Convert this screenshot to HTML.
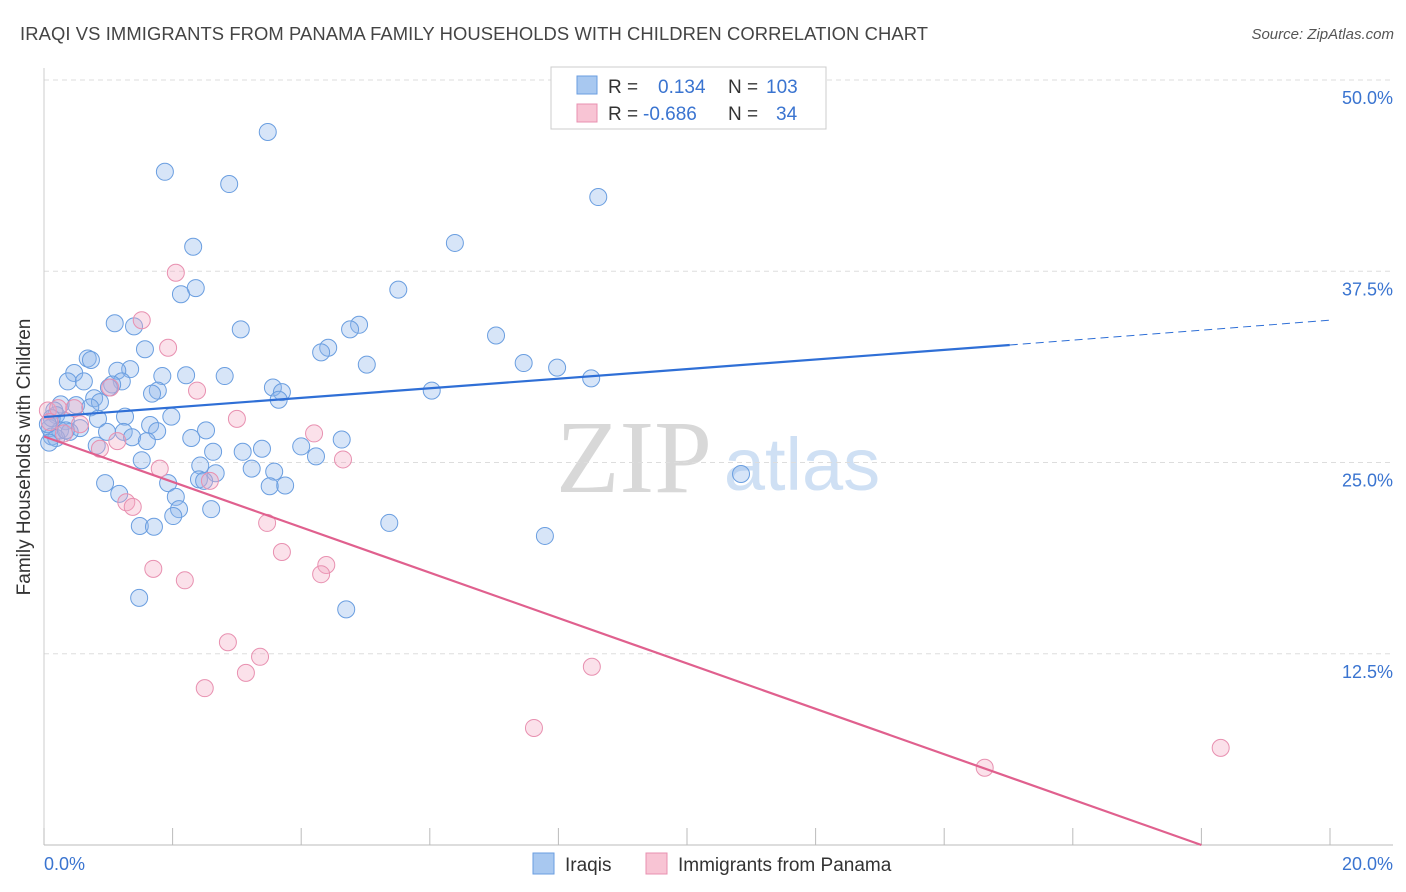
<!DOCTYPE html>
<html><head><meta charset="utf-8"><style>
body{margin:0;background:#fff;font-family:"Liberation Sans",sans-serif;}
svg{display:block}
</style></head><body>
<svg id="chart" width="1406" height="892" xmlns="http://www.w3.org/2000/svg">
<text x="20" y="40" font-size="18.4" fill="#444" textLength="908">IRAQI VS IMMIGRANTS FROM PANAMA FAMILY HOUSEHOLDS WITH CHILDREN CORRELATION CHART</text>
<text x="1394" y="39" font-size="15" fill="#555" text-anchor="end" font-style="italic">Source: ZipAtlas.com</text>
<g>
<text x="634" y="492" font-size="104" fill="#d8d8d8" font-family="Liberation Serif,serif" text-anchor="middle">ZIP</text>
<text x="802" y="490" font-size="74" fill="#cfe0f4" text-anchor="middle">atlas</text>
</g>
<g id="grid"></g><g id="axes"></g><g id="pts"></g><g id="lines"></g>
<text x="30" y="457" font-size="19" fill="#333" text-anchor="middle" transform="rotate(-90 30 457)">Family Households with Children</text>
<g>
<rect x="551" y="67" width="275" height="62" fill="#fff" stroke="#ccc"/>
<rect x="577" y="76" width="20" height="18" fill="#a8c8f0" stroke="#6a9ee0"/>
<rect x="577" y="104" width="20" height="18" fill="#f8c4d4" stroke="#e890b0"/>
<text x="608" y="93" font-size="19" fill="#333">R =</text><text x="658" y="93" font-size="19" fill="#3a74d0">0.134</text>
<text x="728" y="93" font-size="19" fill="#333">N =</text><text x="766" y="93" font-size="19" fill="#3a74d0">103</text>
<text x="608" y="120" font-size="19" fill="#333">R =</text><text x="643" y="120" font-size="19" fill="#3a74d0">-0.686</text>
<text x="728" y="120" font-size="19" fill="#333">N =</text><text x="776" y="120" font-size="19" fill="#3a74d0">34</text>
</g>
<g>
<rect x="533" y="853" width="21" height="21" fill="#a8c8f0" stroke="#6a9ee0"/>
<text x="565" y="871" font-size="19" fill="#333">Iraqis</text>
<rect x="646" y="853" width="21" height="21" fill="#f8c4d4" stroke="#e890b0"/>
<text x="678" y="871" font-size="19" fill="#333">Immigrants from Panama</text>
</g>
</svg>
<script>
const blueX=[3.48,1.88,2.88,8.62,2.32,6.39,2.36,2.13,5.51,1.10,1.40,3.06,4.90,4.76,7.03,1.57,4.42,4.31,0.68,0.73,5.02,7.46,7.98,1.34,0.47,1.14,2.21,1.84,2.81,8.51,0.37,0.62,1.21,1.06,1.01,3.56,3.70,1.77,1.68,6.03,3.65,0.78,0.87,0.26,0.50,0.72,0.16,1.26,1.98,0.84,0.19,0.34,1.65,0.09,0.25,0.56,0.40,0.98,1.24,2.52,1.76,0.12,0.19,1.37,2.29,1.60,0.08,0.82,4.00,3.39,4.63,4.23,2.63,3.09,1.52,2.43,3.23,3.58,2.67,10.84,2.41,2.49,0.95,3.75,3.51,1.93,1.17,2.05,2.60,2.10,2.01,5.37,1.49,1.71,7.79,1.48,4.70,0.12,0.06,0.34];
const blueY=[46.6,44.0,43.2,42.35,39.1,39.35,36.4,36.0,36.3,34.1,33.9,33.7,34.0,33.7,33.3,32.4,32.5,32.2,31.8,31.7,31.4,31.5,31.2,31.1,30.85,31.0,30.7,30.65,30.65,30.5,30.3,30.3,30.3,30.1,29.9,29.9,29.6,29.7,29.5,29.7,29.1,29.2,28.95,28.8,28.75,28.6,28.4,28.0,28.0,27.85,28.1,27.7,27.45,27.25,27.1,27.25,27.0,27.0,27.0,27.1,27.05,26.7,26.6,26.65,26.6,26.4,26.3,26.1,26.05,25.9,26.5,25.4,25.7,25.7,25.15,24.8,24.6,24.4,24.3,24.25,23.9,23.8,23.65,23.5,23.45,23.65,22.95,22.75,21.95,21.95,21.5,21.05,20.85,20.8,20.2,16.15,15.4,27.9,27.5,27.1];
const pinkX=[2.05,1.52,1.93,2.38,1.03,0.06,0.22,0.47,0.09,0.56,0.31,3.00,4.20,4.65,0.87,1.14,1.80,2.58,1.28,1.38,3.47,3.70,4.39,4.31,1.70,2.19,2.86,3.36,3.14,2.50,8.52,7.62,18.3,14.63];
const pinkY=[37.4,34.3,32.5,29.7,29.9,28.4,28.55,28.55,27.65,27.5,26.9,27.85,26.9,25.2,25.9,26.4,24.6,23.8,22.4,22.1,21.05,19.15,18.3,17.7,18.05,17.3,13.25,12.3,11.25,10.25,11.65,7.65,6.35,5.05];
const blueLine=[[0,27.97],[15.02,32.68],[20,34.3]];
const pinkLine=[[0,26.7],[18.0,0]];
const yTicks=[12.5,25.0,37.5,50.0];
const xTickVals=[0,2,4,6,8,10,12,14,16,18,20];
const NS="http://www.w3.org/2000/svg";
const X=v=>44+v/20*1286, Y=v=>845-v/50*765;
function mk(p,t,a){const e=document.createElementNS(NS,t);for(const k in a)e.setAttribute(k,a[k]);document.getElementById(p).appendChild(e);return e;}
yTicks.forEach(t=>{
 const g=mk('grid','line',{x1:44,x2:1393,y1:Y(t),y2:Y(t),stroke:'#ddd','stroke-dasharray':'5,4'});
 
 
 const l=mk('axes','text',{x:1393,y:Y(t)+24,'font-size':18,fill:'#3a74d0','text-anchor':'end'});
 l.textContent=t.toFixed(1)+'%';
 
 
});
const ax=mk('axes','line',{x1:44,x2:1393,y1:845,y2:845,stroke:'#bbb'});


const ay=mk('axes','line',{x1:44,x2:44,y1:68,y2:845,stroke:'#ccc'});


xTickVals.forEach(t=>{
 const k=mk('axes','line',{x1:X(t),x2:X(t),y1:828,y2:845,stroke:'#bbb'});
 
 
});
[[0,'start'],[20,'end']].forEach(([t,a])=>{
 const l=mk('axes','text',{x:t===0?44:1393,y:870,'font-size':18,fill:'#3a74d0','text-anchor':a});
 l.textContent=t.toFixed(1)+'%';
 
 
});
blueX.forEach((v,i)=>{
 const c=mk('pts','circle',{cx:X(v),cy:Y(blueY[i]),r:8.5,fill:'rgba(140,180,235,0.35)',stroke:'#6a9ee0','stroke-width':1});
 
 
});
pinkX.forEach((v,i)=>{
 const c=mk('pts','circle',{cx:X(v),cy:Y(pinkY[i]),r:8.5,fill:'rgba(244,170,196,0.35)',stroke:'#e890b0','stroke-width':1});
 
 
});
const b1=mk('lines','line',{x1:X(blueLine[0][0]),y1:Y(blueLine[0][1]),x2:X(blueLine[1][0]),y2:Y(blueLine[1][1]),stroke:'#2f6fd6','stroke-width':2.2});


const b2=mk('lines','line',{x1:X(blueLine[1][0]),y1:Y(blueLine[1][1]),x2:X(blueLine[2][0]),y2:Y(blueLine[2][1]),stroke:'#2f6fd6','stroke-width':1,'stroke-dasharray':'8,5'});


const p1=mk('lines','line',{x1:X(pinkLine[0][0]),y1:Y(pinkLine[0][1]),x2:X(pinkLine[1][0]),y2:Y(pinkLine[1][1]),stroke:'#e0608e','stroke-width':2.2});


</script>
</body></html>
